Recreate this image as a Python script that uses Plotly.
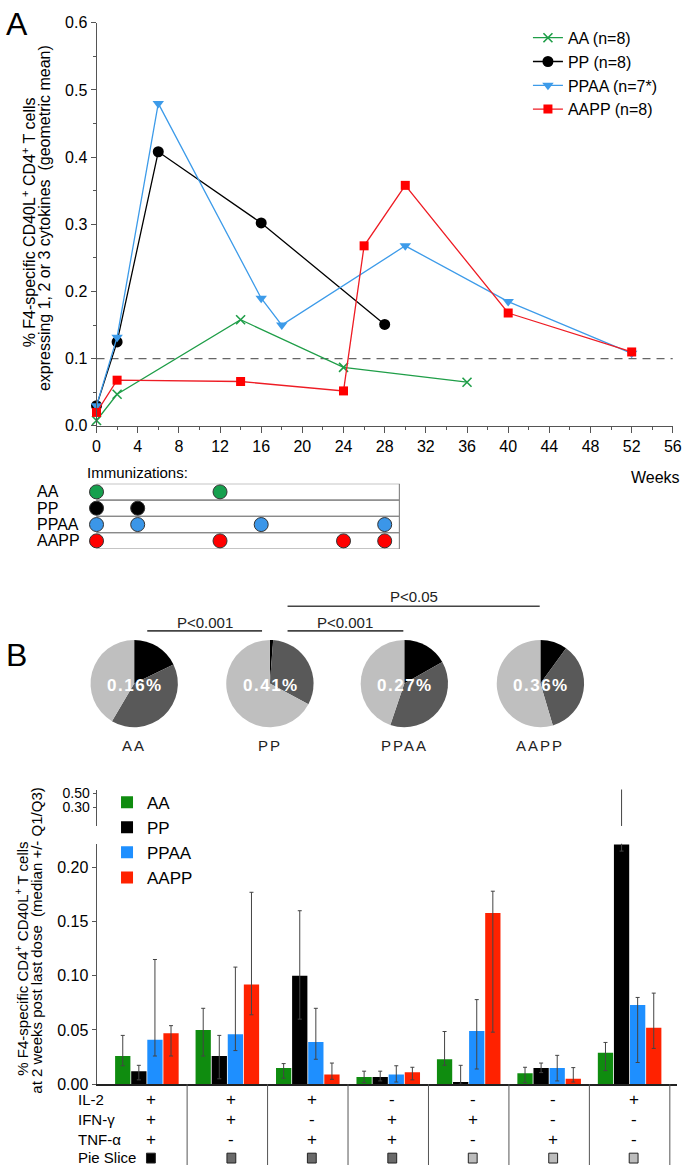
import plotly.graph_objects as go

W, H = 690, 1174
FONT = "Arial, Liberation Sans, sans-serif"
NARROW = "Liberation Sans Narrow, Arial Narrow, Liberation Sans, sans-serif"

def px(x):
    return x / W

def py(y):
    return 1 - y / H

# ---------------- Panel A data ----------------
series_names = ["AA (n=8)", "PP (n=8)", "PPAA (n=7*)", "AAPP (n=8)"]
weeks_AA = [0, 2, 14, 24, 36]
vals_AA = [0.008, 0.047, 0.158, 0.087, 0.065]
weeks_PP = [0, 2, 6, 16, 28]
vals_PP = [0.030, 0.125, 0.408, 0.302, 0.151]
weeks_PPAA = [0, 2, 6, 16, 18, 30, 40, 52]
vals_PPAA = [0.030, 0.132, 0.480, 0.190, 0.150, 0.268, 0.185, 0.108]
weeks_AAPP = [0, 2, 14, 24, 26, 30, 40, 52]
vals_AAPP = [0.020, 0.068, 0.066, 0.052, 0.268, 0.358, 0.168, 0.110]
threshold = 0.1

x_ticks_A = list(range(0, 57, 4))

imm_groups = ["AA", "PP", "PPAA", "AAPP"]
imm_weeks = [[0, 12], [0, 4], [0, 4, 16, 28], [0, 12, 24, 28]]

line_colors = ["#1f9e48", "#000000", "#3d9be9", "#ee1c24"]
marker_colors = ["#1f9e48", "#000000", "#3d9be9", "#ff0000"]
dot_colors = ["#16a04e", "#000000", "#3b96e8", "#ff0000"]

# ---------------- Panel B data ----------------
pie_groups = ["AA", "PP", "PPAA", "AAPP"]
pie_totals = [0.16, 0.41, 0.27, 0.36]
pie_three = [0.178, 0.012, 0.168, 0.100]
pie_two = [0.407, 0.316, 0.384, 0.354]
pie_one = [0.415, 0.672, 0.448, 0.546]
slice_colors = {"3": "#000000", "2": "#595959", "1": "#bfbfbf"}
square_colors = {"3": "#000000", "2": "#6a6a6a", "1": "#bcbcbc"}

il2 = ["+", "+", "+", "-", "-", "-", "+"]
ifng = ["+", "+", "-", "+", "+", "-", "-"]
tnfa = ["+", "-", "+", "+", "-", "+", "-"]
slice_class = ["3", "2", "2", "2", "1", "1", "1"]

bar_groups = ["AA", "PP", "PPAA", "AAPP"]
bar_colors = ["#0f8c0f", "#000000", "#1e8fff", "#ff2200"]
AA_med = [0.026, 0.050, 0.015, 0.0067, 0.023, 0.010, 0.029]
AA_q1 = [0.017, 0.026, 0.0055, 0.0015, 0.0174, 0.0015, 0.0125]
AA_q3 = [0.045, 0.070, 0.019, 0.012, 0.0486, 0.0156, 0.0385]
PP_med = [0.012, 0.026, 0.100, 0.0067, 0.002, 0.015, 0.221]
PP_q1 = [0.004, 0.005, 0.060, 0.003, 0.0, 0.0107, 0.215]
PP_q3 = [0.0174, 0.045, 0.160, 0.012, 0.0174, 0.0195, 0.76]
PPAA_med = [0.041, 0.046, 0.039, 0.009, 0.049, 0.015, 0.073]
PPAA_q1 = [0.026, 0.031, 0.023, 0.002, 0.014, 0.003, 0.020]
PPAA_q3 = [0.115, 0.108, 0.070, 0.017, 0.078, 0.0266, 0.080]
AAPP_med = [0.047, 0.092, 0.009, 0.011, 0.158, 0.005, 0.052]
AAPP_q1 = [0.026, 0.064, 0.0045, 0.004, 0.048, 0.002, 0.033]
AAPP_q3 = [0.054, 0.177, 0.0195, 0.0156, 0.178, 0.0153, 0.084]
bar_y_ticks = [0.00, 0.05, 0.10, 0.15, 0.20]
bar_break_ticks = [0.30, 0.50]
main_top = 0.2218
break_range = [0.0286, 0.557]

fig = go.Figure()

# ---------- Panel A lines ----------
series = [(weeks_AA, vals_AA, "x-thin", 9), (weeks_PP, vals_PP, "circle", 11),
          (weeks_PPAA, vals_PPAA, "triangle-down", 10), (weeks_AAPP, vals_AAPP, "square", 9)]
for i, (wk, vv, sym, sz) in enumerate(series):
    fig.add_trace(go.Scatter(
        x=wk, y=vv, mode="lines+markers", name=series_names[i],
        line=dict(color=line_colors[i], width=1.3),
        marker=dict(symbol=sym, size=sz, color=marker_colors[i],
                    line=dict(color=marker_colors[i], width=1.6 if sym == "x-thin" else 0)),
        cliponaxis=False, xaxis="x", yaxis="y", legend="legend"))

fig.add_shape(type="line", xref="x", yref="y", x0=0, x1=56, y0=threshold, y1=threshold,
              line=dict(color="#666666", width=1.3, dash="8px,6px"), layer="below")

# ---------- Immunization table ----------
tab_x0, tab_x1 = -0.89, 29.43
for r in range(4):
    fig.add_shape(type="rect", xref="x2", yref="y2", x0=tab_x0, x1=tab_x1, y0=r, y1=r + 1,
                  line=dict(color="#8a8a8a", width=1.2), layer="below")
for r, g in enumerate(imm_groups):
    fig.add_trace(go.Scatter(
        x=imm_weeks[r], y=[r + 0.5] * len(imm_weeks[r]), mode="markers", showlegend=False,
        marker=dict(symbol="circle", size=14, color=dot_colors[r], line=dict(color="#333333", width=1)),
        cliponaxis=False, xaxis="x2", yaxis="y2"))

annotations = []
for r, g in enumerate(imm_groups):
    annotations.append(dict(text=g, xref="paper", yref="y2", x=px(32), y=r + 0.5,
                            xanchor="left", yanchor="middle", showarrow=False,
                            font=dict(family=FONT, size=16, color="black")))
annotations.append(dict(text="Immunizations:", xref="paper", yref="paper", x=px(83), y=py(471),
                        xanchor="left", yanchor="middle", showarrow=False,
                        font=dict(family=FONT, size=15, color="black")))
annotations.append(dict(text="Weeks", xref="paper", yref="paper", x=px(637), y=py(476),
                        xanchor="left", yanchor="middle", showarrow=False,
                        font=dict(family=FONT, size=16, color="black")))
annotations.append(dict(text="A", xref="paper", yref="paper", x=0, y=py(16),
                        xanchor="left", yanchor="middle", showarrow=False,
                        font=dict(family=FONT, size=32, color="black")))
annotations.append(dict(text="B", xref="paper", yref="paper", x=0, y=py(656),
                        xanchor="left", yanchor="middle", showarrow=False,
                        font=dict(family=FONT, size=32, color="black")))
annotations.append(dict(text="% F4-specific CD40L<sup>+</sup> CD4<sup>+</sup> T cells",
                        xref="paper", yref="paper", x=px(25), y=py(218), textangle=-90,
                        xanchor="center", yanchor="middle", showarrow=False,
                        font=dict(family=FONT, size=16, color="black")))
annotations.append(dict(text="expressing 1, 2 or 3 cytokines  (geometric mean)",
                        xref="paper", yref="paper", x=px(42), y=py(213), textangle=-90,
                        xanchor="center", yanchor="middle", showarrow=False,
                        font=dict(family=FONT, size=16, color="black")))

# ---------- Pies ----------
pie_cx = [132.7, 271, 408, 546.7]
pie_cy, pie_r = 685.5, 44.5
for i, g in enumerate(pie_groups):
    fig.add_trace(go.Pie(
        values=[pie_three[i], pie_two[i], pie_one[i]], labels=["3", "2", "1"],
        marker=dict(colors=[slice_colors["3"], slice_colors["2"], slice_colors["1"]],
                    line=dict(width=0)),
        sort=False, direction="clockwise", rotation=0, textinfo="none", showlegend=False,
        domain=dict(x=[px(pie_cx[i] - pie_r), px(pie_cx[i] + pie_r)],
                    y=[py(pie_cy + pie_r), py(pie_cy - pie_r)])))
    annotations.append(dict(text=f"<span style='letter-spacing:1.5px'><b>{pie_totals[i]:.2f}%</b></span>",
                            xref="paper", yref="paper",
                            x=px(pie_cx[i] + 1), y=py(687), xanchor="center", yanchor="middle",
                            showarrow=False, font=dict(family=FONT, size=17, color="white")))
    annotations.append(dict(text=f"<span style='letter-spacing:2px'>{g}</span>",
                            xref="paper", yref="paper", x=px(pie_cx[i]), y=py(748),
                            xanchor="center", yanchor="middle", showarrow=False,
                            font=dict(family=NARROW, size=15, color="#222222")))

shapes_extra = []
pvals = [("P<0.001", 146, 263, 632, 624), ("P<0.001", 289, 407, 632, 624), ("P<0.05", 289, 546, 607, 597)]
for txt, xa, xb, yl, yt in pvals:
    shapes_extra.append(dict(type="line", xref="paper", yref="paper", x0=px(xa), x1=px(xb),
                             y0=py(yl), y1=py(yl), line=dict(color="#444444", width=1.6)))
    annotations.append(dict(text=txt, xref="paper", yref="paper", x=px((xa + xb) / 2), y=py(yt),
                            xanchor="center", yanchor="middle", showarrow=False,
                            font=dict(family=NARROW, size=15, color="#222222")))

# ---------- Bars ----------
meds = [AA_med, PP_med, PPAA_med, AAPP_med]
q1s = [AA_q1, PP_q1, PPAA_q1, AAPP_q1]
q3s = [AA_q3, PP_q3, PPAA_q3, AAPP_q3]
groups_x = list(range(7))
BARGAP = 0.2
for k, g in enumerate(bar_groups):
    fig.add_trace(go.Bar(
        x=groups_x, y=meds[k], name=g, marker=dict(color=bar_colors[k], line=dict(width=0)),
        error_y=dict(type="data", symmetric=False,
                     array=[a - b for a, b in zip(q3s[k], meds[k])],
                     arrayminus=[b - a for a, b in zip(q1s[k], meds[k])],
                     color="#444444", thickness=1, width=2),
        xaxis="x3", yaxis="y3", legend="legend2"))

# broken-axis continuation of the PP whisker in the last group
slot = (1 - BARGAP) / 4
pp_off = -1.5 * slot + slot
last = 6
fig.add_trace(go.Scatter(
    x=[last + pp_off, last + pp_off], y=[break_range[0], PP_q3[last]], mode="lines",
    line=dict(color="#444444", width=1), showlegend=False, xaxis="x3", yaxis="y4",
    cliponaxis=False, hoverinfo="skip"))
fig.add_trace(go.Scatter(
    x=[last + pp_off], y=[PP_q3[last]], mode="markers",
    marker=dict(symbol="line-ew", size=5, line=dict(color="#444444", width=1)),
    showlegend=False, xaxis="x3", yaxis="y4", cliponaxis=False, hoverinfo="skip"))

# separators and cytokine table
for i in range(7):
    shapes_extra.append(dict(type="line", xref="x3", yref="paper", x0=i + 0.5, x1=i + 0.5,
                             y0=py(1092), y1=0, line=dict(color="#555555", width=1)))
rows = [("IL-2", il2, 1108), ("IFN-γ", ifng, 1128), ("TNF-α", tnfa, 1148)]
for label, signs, yy in rows:
    annotations.append(dict(text=label, xref="paper", yref="paper", x=px(73), y=py(yy),
                            xanchor="left", yanchor="middle", showarrow=False,
                            font=dict(family=FONT, size=15, color="black")))
    for i, s in enumerate(signs):
        annotations.append(dict(text=s, xref="x3", yref="paper", x=i + 0.05, y=py(yy),
                                xanchor="center", yanchor="middle", showarrow=False,
                                font=dict(family=FONT, size=17, color="black")))
annotations.append(dict(text="Pie Slice", xref="paper", yref="paper", x=px(73), y=py(1166),
                        xanchor="left", yanchor="middle", showarrow=False,
                        font=dict(family=FONT, size=15, color="black")))
for i, c in enumerate(slice_class):
    shapes_extra.append(dict(type="rect", xref="x3", yref="paper", x0=i + 0.05 - 0.055,
                             x1=i + 0.05 + 0.055, y0=py(1172), y1=py(1162),
                             fillcolor=square_colors[c], line=dict(color="#222222", width=1)))

annotations.append(dict(text="% F4-specific CD4<sup>+</sup> CD40L<sup>+</sup> T cells",
                        xref="paper", yref="paper", x=px(17), y=py(965), textangle=-90,
                        xanchor="center", yanchor="middle", showarrow=False,
                        font=dict(family=FONT, size=15, color="black")))
annotations.append(dict(text="at 2 weeks post last dose  (median +/- Q1/Q3)",
                        xref="paper", yref="paper", x=px(33), y=py(946), textangle=-90,
                        xanchor="center", yanchor="middle", showarrow=False,
                        font=dict(family=FONT, size=15, color="black")))

axis_common = dict(showgrid=False, zeroline=False, showline=True, linecolor="#555555",
                   linewidth=1, tickcolor="#555555", ticklabeloverflow="allow",
                   tickfont=dict(family=FONT, size=16, color="black"))

fig.update_layout(
    width=W, height=H, margin=dict(l=0, r=0, t=0, b=0),
    paper_bgcolor="white", plot_bgcolor="rgba(0,0,0,0)",
    font=dict(family=FONT, color="black"),
    barmode="group", bargap=BARGAP, bargroupgap=0.05,
    xaxis=dict(domain=[px(94.3), px(681.7)], range=[0, 56], anchor="y",
               tickvals=x_ticks_A, ticks="outside", ticklen=6,
               minor=dict(dtick=2, ticks="outside", ticklen=3, tickcolor="#555555"), **axis_common),
    yaxis=dict(domain=[py(424), py(15)], range=[0, 0.6], anchor="x", dtick=0.1, tickformat=".1f",
               ticks="outside", ticklen=5,
               minor=dict(dtick=0.05, ticks="outside", ticklen=3, tickcolor="#555555"), **axis_common),
    xaxis2=dict(domain=[px(94.3), px(681.7)], range=[0, 56], anchor="y2", visible=False),
    yaxis2=dict(domain=[py(549), py(482.7)], range=[4, 0], anchor="x2", visible=False),
    xaxis3=dict(domain=[px(94.3), px(686)], range=[-0.626, 6.59], anchor="y3",
                showticklabels=False, ticks="", showgrid=False, zeroline=False,
                showline=True, linecolor="#222222", linewidth=1.5),
    yaxis3=dict(domain=[py(1092), py(848)], range=[0, main_top], anchor="x3",
                tickvals=bar_y_ticks, tickformat=".2f", ticks="outside", ticklen=4, **axis_common),
    yaxis4=dict(domain=[py(830), py(793)], range=break_range, anchor="x3",
                tickvals=bar_break_ticks, tickformat=".2f", ticks="outside", ticklen=3,
                showgrid=False, zeroline=False, showline=True, linecolor="#555555", linewidth=1,
                tickcolor="#555555", tickfont=dict(family=FONT, size=14, color="black")),
    legend=dict(x=px(534), y=py(13), xanchor="left", yanchor="top", bgcolor="rgba(0,0,0,0)",
                font=dict(family=FONT, size=16, color="black"), itemwidth=30, tracegroupgap=0),
    legend2=dict(x=px(105), y=py(788), xanchor="left", yanchor="top", bgcolor="rgba(0,0,0,0)",
                 font=dict(family=FONT, size=17, color="black"), itemwidth=30, tracegroupgap=0),
    annotations=annotations, shapes=list(fig.layout.shapes) + shapes_extra,
)

fig.write_html("out.html", config={"displayModeBar": False},
               post_script="document.body.style.margin='0';")
